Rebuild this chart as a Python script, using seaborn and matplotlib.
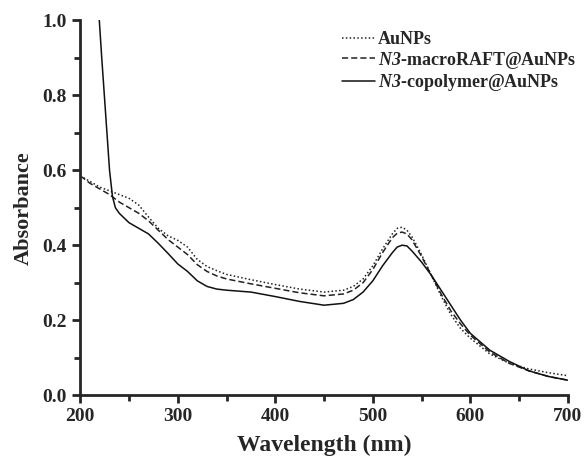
import matplotlib
matplotlib.use("Agg")
import matplotlib.pyplot as plt
from matplotlib.ticker import MultipleLocator
import numpy as np
import pandas as pd
import seaborn as sns

sns.set_style("ticks")
plt.rcParams.update({'font.family': ['Liberation Serif', 'DejaVu Serif'],
                     'font.weight': 'bold',
                     'axes.labelweight': 'bold',
                     'axes.linewidth': 2.0,
                     'mathtext.fontset': 'custom',
                     'mathtext.it': 'Liberation Serif:italic:bold',
                     'mathtext.sf': 'Liberation Serif:italic:bold',
                     'mathtext.rm': 'Liberation Serif:bold',
                     'mathtext.bf': 'Liberation Serif:bold'})

# wavelength grid (nm)
wl = [200, 210, 220, 230, 240, 250, 260, 270, 280, 290, 300, 310, 320, 330, 340,
      350, 375, 400, 425, 450, 470, 480, 490, 500, 510, 520, 525, 530, 535, 540,
      550, 560, 570, 580, 590, 600, 620, 640, 660, 680, 700]

aunps = [0.585, 0.57, 0.555, 0.545, 0.535, 0.525, 0.507, 0.475, 0.445, 0.425, 0.413,
         0.395, 0.362, 0.343, 0.332, 0.322, 0.308, 0.295, 0.283, 0.275, 0.28, 0.29,
         0.31, 0.345, 0.39, 0.43, 0.445, 0.448, 0.44, 0.423, 0.375, 0.32, 0.265,
         0.215, 0.178, 0.152, 0.11, 0.085, 0.07, 0.06, 0.052]

macro = [0.585, 0.565, 0.55, 0.535, 0.515, 0.5, 0.485, 0.465, 0.44, 0.415, 0.395,
         0.375, 0.348, 0.33, 0.318, 0.31, 0.297, 0.285, 0.273, 0.265, 0.27, 0.28,
         0.3, 0.335, 0.38, 0.42, 0.432, 0.435, 0.43, 0.415, 0.37, 0.32, 0.27,
         0.225, 0.19, 0.16, 0.115, 0.085, 0.065, 0.05, 0.04]

wl_cop = [219.5, 222, 226, 230, 233, 236, 240, 250, 260, 270, 280, 290, 300, 310,
          320, 330, 340, 350, 375, 400, 425, 450, 470, 480, 490, 500, 510, 520, 525,
          530, 535, 540, 550, 560, 570, 580, 590, 600, 620, 640, 660, 680, 700]
copolymer = [1.0, 0.9, 0.75, 0.6, 0.53, 0.5, 0.485, 0.46, 0.445, 0.43, 0.405, 0.378,
             0.35, 0.33, 0.305, 0.29, 0.283, 0.28, 0.275, 0.263, 0.25, 0.24, 0.245,
             0.255, 0.275, 0.305, 0.345, 0.38, 0.395, 0.4, 0.398, 0.385, 0.355,
             0.32, 0.28, 0.24, 0.2, 0.165, 0.12, 0.09, 0.065, 0.05, 0.04]

df_a = pd.DataFrame({'wl': wl, 'abs': aunps})
df_m = pd.DataFrame({'wl': wl, 'abs': macro})
df_c = pd.DataFrame({'wl': wl_cop, 'abs': copolymer})

fig, ax = plt.subplots(figsize=(5.86, 4.59), dpi=100)
fig.subplots_adjust(left=0.137, right=0.969, top=0.956, bottom=0.139)

sns.lineplot(ax=ax, data=df_a, x='wl', y='abs', color='#222222', lw=1.1,
             linestyle=(0, (1, 1.5)), label='AuNPs')
sns.lineplot(ax=ax, data=df_m, x='wl', y='abs', color='#222222', lw=1.1,
             linestyle=(0, (4, 2)), label=r'$\mathsf{N3}$-macroRAFT@AuNPs')
sns.lineplot(ax=ax, data=df_c, x='wl', y='abs', color='#111111', lw=1.1,
             linestyle='-', label=r'$\mathsf{N3}$-copolymer@AuNPs')

ax.set_xlim(200, 700)
ax.set_ylim(0, 1.0)
ax.xaxis.set_major_locator(MultipleLocator(100))
ax.xaxis.set_minor_locator(MultipleLocator(50))
ax.yaxis.set_major_locator(MultipleLocator(0.2))
ax.yaxis.set_minor_locator(MultipleLocator(0.1))
ax.yaxis.set_major_formatter(plt.FormatStrFormatter('%.1f'))
ax.tick_params(which='major', direction='out', length=6, width=2, labelsize=14)
ax.tick_params(which='minor', direction='out', length=4, width=2)
for t in ax.get_xticklabels() + ax.get_yticklabels():
    t.set_fontweight('bold')
sns.despine(ax=ax)

ax.set_xlabel('Wavelength (nm)', fontsize=17, fontweight='bold', labelpad=7)
ax.set_ylabel('Absorbance', fontsize=16, fontweight='bold', labelpad=6)

leg = ax.legend(loc='upper right', bbox_to_anchor=(1.05, 1.015), frameon=False,
                handlelength=1.8, handletextpad=0.15, labelspacing=0.1,
                prop={'weight': 'bold', 'size': 13})

plt.savefig('out.png', dpi=100)
